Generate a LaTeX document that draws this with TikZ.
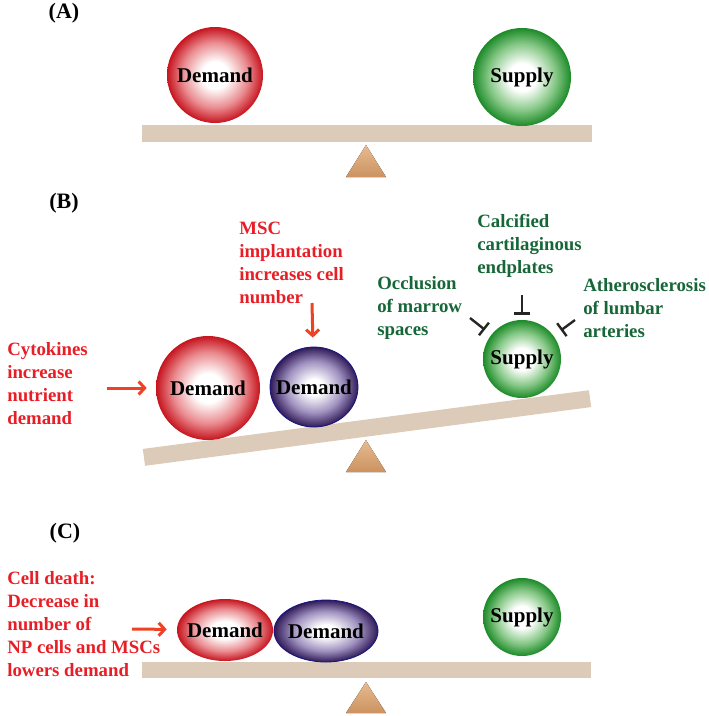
\documentclass[tikz,border=0pt]{standalone}
\usepackage{fontspec}
\setmainfont{Liberation Serif}
\usepackage{xcolor}
\usepackage{pgf}
\usepackage{tikz}
\usetikzlibrary{arrows,arrows.meta,shapes.geometric}

\definecolor{txtred}{RGB}{232,30,38}
\definecolor{txtgreen}{RGB}{22,102,56}
\definecolor{arrred}{RGB}{238,66,36}
\definecolor{wood}{RGB}{221,203,185}
\definecolor{pivottop}{RGB}{230,188,145}
\definecolor{pivotbot}{RGB}{204,146,96}
\definecolor{redmid}{RGB}{234,140,144}
\definecolor{redrim}{RGB}{198,20,30}
\definecolor{grnmid}{RGB}{135,200,135}
\definecolor{grnrim}{RGB}{28,138,40}
\definecolor{purmid}{RGB}{160,146,192}
\definecolor{purrim}{RGB}{48,26,88}
\definecolor{purline}{RGB}{20,20,130}

\pgfdeclareradialshading{redball}{\pgfpoint{0bp}{0bp}}{color(0bp)=(white);color(7bp)=(white);color(17bp)=(redmid);color(25bp)=(redrim);color(50bp)=(redrim)}
\pgfdeclareradialshading{grnball}{\pgfpoint{0bp}{0bp}}{color(0bp)=(white);color(7bp)=(white);color(17bp)=(grnmid);color(25bp)=(grnrim);color(50bp)=(grnrim)}
\pgfdeclareradialshading{purball}{\pgfpoint{0bp}{0bp}}{color(0bp)=(white);color(5bp)=(white);color(16bp)=(purmid);color(25bp)=(purrim);color(50bp)=(purrim)}

\newcommand\notefont{\fontsize{18.8}{23}\selectfont\bfseries}
\newcommand\ballfont{\fontsize{21}{25}\selectfont\bfseries}

\begin{document}
\begin{tikzpicture}[x=1pt,y=-1pt,semithick]
  \tikzstyle{ball}=[circle,inner sep=0pt,font=\ballfont]
  \tikzstyle{egg}=[ellipse,inner sep=0pt,font=\ballfont,draw=purline,line width=0.8pt,shading=purball]
  \tikzstyle{redtext}=[text=txtred,font=\notefont,align=left,inner sep=0pt,anchor=west]
  \tikzstyle{grntext}=[text=txtgreen,font=\notefont,align=left,inner sep=0pt,anchor=west]
  \tikzstyle{panel}=[font=\fontsize{22}{26}\selectfont\bfseries]
  \tikzstyle{plank}=[fill=wood]
  \tikzstyle{pivot}=[top color=pivottop,bottom color=pivotbot]
  \tikzstyle{push}=[-{Straight Barb[length=6pt,width=13pt]},line width=3pt,draw=arrred]
  \tikzstyle{block}=[-{Bar[width=16pt]},line width=2.4pt,draw=black!85]

  \useasboundingbox (0,0) rectangle (709,716);

  % (A) balanced
  \node[panel] (lblA) at (64,13) {(A)};
  \fill[plank] (142,125) rectangle (592,142);
  \fill[pivot] (366,145) -- (386,177) -- (346,177) -- cycle;
  \node[ball,minimum size=96pt,shading=redball] (dmdA) at (215,75) {Demand};
  \node[ball,minimum size=98pt,shading=grnball] (supA) at (522,77) {Supply};

  % (B) demand outweighs supply
  \node[panel] (lblB) at (64,203) {(B)};
  \fill[plank,rotate around={7.5:(367,428)}] (142,419.5) rectangle (592,436.5);
  \fill[pivot] (366,440) -- (386,472) -- (346,472) -- cycle;
  \node[ball,minimum size=104pt,shading=redball] (dmdB) at (208,388) {Demand};
  \node[egg,minimum width=88pt,minimum height=80pt,label={[font=\ballfont]center:Demand}] (mscB) at (314,387) {};
  \node[ball,minimum size=78pt,shading=grnball] (supB) at (522,359) {Supply};

  \node[redtext] (cyto) at (7,384) {Cytokines\\increase\\nutrient\\demand};
  \node[redtext] (msc) at (239,263) {MSC\\implantation\\increases cell\\number};
  \node[grntext] (occl) at (377,308) {Occlusion\\of marrow\\spaces};
  \node[grntext] (calc) at (477,246) {Calcified\\cartilaginous\\endplates};
  \node[grntext] (ather) at (583,308) {Atherosclerosis\\of lumbar\\arteries};

  \coordinate (cytoA) at (107,388);
  \coordinate (mscA) at (312,303);
  \coordinate (occlA) at (470,318);
  \coordinate (calcA) at (522,295);
  \coordinate (atherA) at (575,320);

  \path (cytoA) edge [push,shorten >=9pt] (dmdB)
        (mscA)  edge [push,shorten >=9pt] (mscB)
        (occlA) edge [block,shorten >=8pt] (supB)
        (calcA) edge [block,shorten >=5pt] (supB)
        (atherA) edge [block,shorten >=9pt] (supB);

  % (C) demand lowered by cell death
  \node[panel] (lblC) at (65,533) {(C)};
  \fill[plank] (142,662) rectangle (591,678);
  \fill[pivot] (366,682) -- (386,713) -- (346,713) -- cycle;
  \node[ellipse,inner sep=0pt,minimum width=96pt,minimum height=62pt,shading=redball,label={[font=\ballfont]center:Demand}] (dmdC) at (225,630) {};
  \node[egg,minimum width=104pt,minimum height=62pt,label={[font=\ballfont]center:Demand}] (mscC) at (326,631) {};
  \node[ball,minimum size=78pt,shading=grnball] (supC) at (522,617) {Supply};

  \node[redtext] (death) at (7,624) {Cell death:\\Decrease in\\number of\\NP cells and MSCs\\lowers demand};
  \coordinate (deathA) at (132,629);
  \path (deathA) edge [push,shorten >=10pt] (dmdC);

\end{tikzpicture}
\end{document}
